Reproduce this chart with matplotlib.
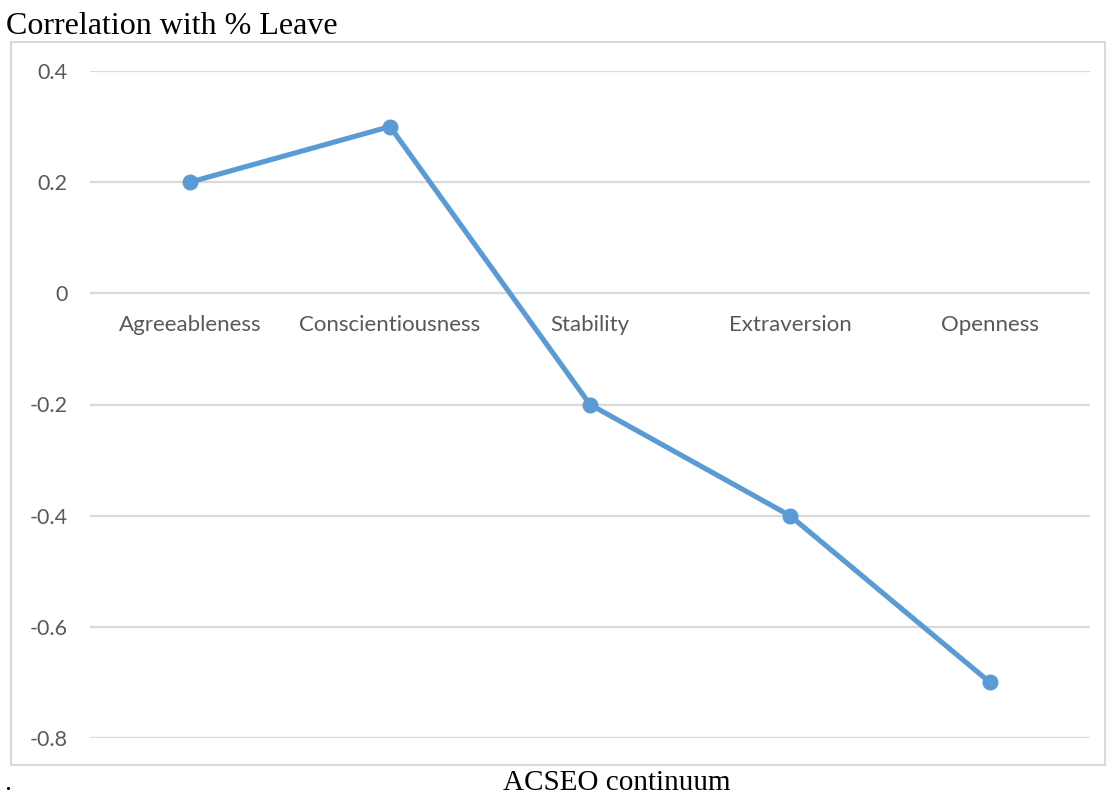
import matplotlib
matplotlib.use("Agg")
import matplotlib.pyplot as plt
from matplotlib.patches import Rectangle

categories = ["Agreeableness", "Conscientiousness", "Stability", "Extraversion", "Openness"]
correlations = [0.2, 0.3, -0.2, -0.4, -0.7]
y_ticks = [0.4, 0.2, 0.0, -0.2, -0.4, -0.6, -0.8]
y_tick_labels = ["0.4", "0.2", "0", "-0.2", "-0.4", "-0.6", "-0.8"]

W, H = 1113, 798
fig = plt.figure(figsize=(W / 100, H / 100), dpi=100)
fig.patch.set_facecolor("white")

# chart frame
fig.patches.append(Rectangle((11 / W, 1 - 765 / H), (1105 - 11) / W, (765 - 42) / H,
                             transform=fig.transFigure, fill=False,
                             edgecolor="#d9d9d9", linewidth=1.5))

ax = fig.add_axes([90 / W, 1 - 738 / H, 1000 / W, (738 - 71) / H])
ax.set_xlim(-0.5, len(categories) - 0.5)
ax.set_ylim(-0.8, 0.4)
for s in ax.spines.values():
    s.set_visible(False)
ax.set_yticks(y_ticks)
ax.set_yticklabels(y_tick_labels)
ax.tick_params(axis="y", length=0, pad=16, labelsize=15.5, labelcolor="#595959")
for lbl in ax.get_yticklabels():
    lbl.set_family("Lato")
ax.set_xticks([])
ax.yaxis.grid(True, color="#d9d9d9", linewidth=1.6)
ax.set_axisbelow(True)

xs = list(range(len(categories)))
ax.plot(xs, correlations, color="#5b9bd5", linewidth=3.7, marker="o",
        markersize=10.5, solid_capstyle="round", zorder=3)

# category labels sit just under the zero line
for x, name in zip(xs, categories):
    ax.annotate(name, xy=(x, 0), xytext=(0, -23), textcoords="offset points",
                ha="center", va="center", fontsize=16, color="#595959", family="Lato")

fig.text(6 / W, 1 - 27 / H, "Correlation with % Leave", ha="left", va="center",
         fontsize=23, family="Liberation Serif", color="black")
fig.text(617 / W, 1 - 783 / H, "ACSEO continuum", ha="center", va="center",
         fontsize=21, family="Liberation Serif", color="black")
fig.text(4 / W, 1 - 783 / H, ".", ha="left", va="center",
         fontsize=20, family="Liberation Serif", color="black")

fig.savefig("out.png", dpi=100, facecolor="white")
